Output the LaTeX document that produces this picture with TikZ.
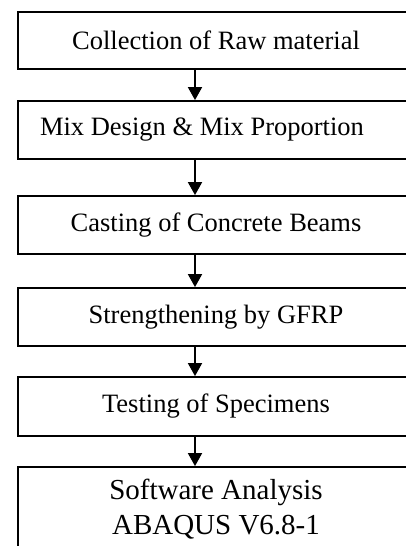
\documentclass[tikz,border=0pt]{standalone}
\usepackage{fontspec}
\setmainfont{Liberation Serif}
\usetikzlibrary{arrows.meta}
\begin{document}
\begin{tikzpicture}[x=1pt,y=1pt,
  stepbox/.style={draw=black, line width=1.8pt, minimum width=396pt, inner sep=0pt,
    align=center, font=\fontsize{26.5}{31}\selectfont},
  arr/.style={line width=1.8pt, -{Triangle[length=13pt,width=14pt]}}]
\clip (0,0) rectangle (406,546);
\coordinate (ax) at (195,0);
\node[stepbox, minimum height=57pt] (b1) at (216,505.5) {Collection of Raw material};
\node[stepbox, minimum height=58pt] (b2) at (216,416) {\hspace*{-28pt}Mix Design \& Mix Proportion};
\node[stepbox, minimum height=58pt] (b3) at (216,321) {Casting of Concrete Beams};
\node[stepbox, minimum height=58pt] (b4) at (216,229) {Strengthening by GFRP};
\node[stepbox, minimum height=59pt] (b5) at (216,139.5) {Testing of Specimens};
\node[stepbox, minimum height=85pt, font=\fontsize{29}{35}\selectfont] (b6) at (216,36.5) {Software Analysis\\ABAQUS V6.8-1};
\draw[arr] (b1.south -| ax) -- (b2.north -| ax);
\draw[arr] (b2.south -| ax) -- (b3.north -| ax);
\draw[arr] (b3.south -| ax) -- (b4.north -| ax);
\draw[arr] (b4.south -| ax) -- (b5.north -| ax);
\draw[arr] (b5.south -| ax) -- (b6.north -| ax);
\end{tikzpicture}
\end{document}
